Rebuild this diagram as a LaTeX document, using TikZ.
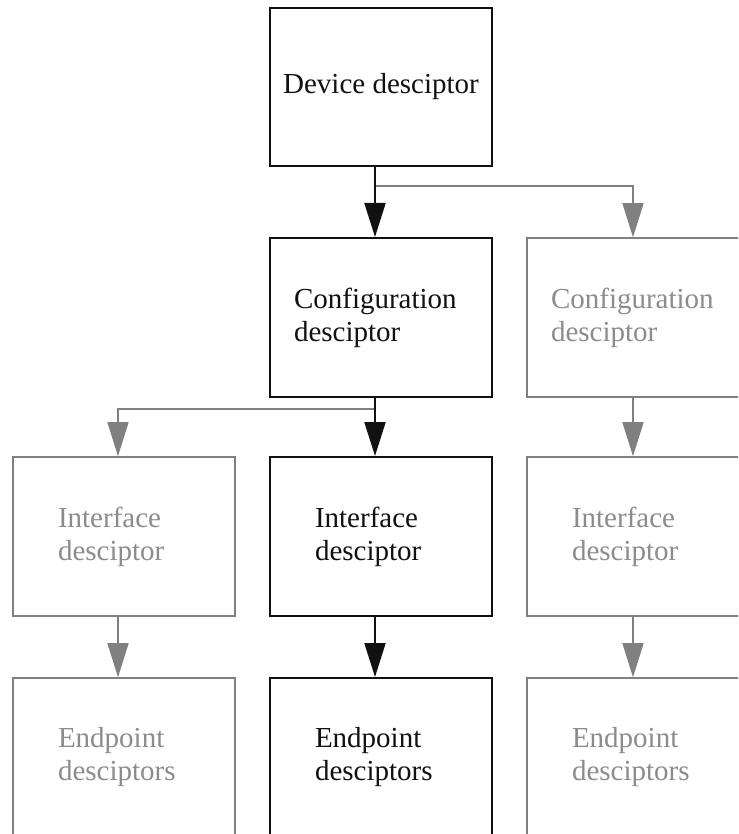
\documentclass[tikz,border=0pt]{standalone}
\usepackage{fontspec}
\setmainfont{Liberation Serif}
\usetikzlibrary{arrows.meta}
\definecolor{dimline}{HTML}{808080}
\definecolor{dimtext}{HTML}{8C8C8C}
\definecolor{ink}{HTML}{111111}
\begin{document}
\begin{tikzpicture}[x=1pt,y=-1pt,
  box/.style={rectangle, draw, inner sep=0pt, minimum width=222pt, minimum height=159pt,
    font=\fontsize{29}{33}\selectfont},
  active/.style={box, draw=ink, line width=2pt, text=ink},
  inactive/.style={box, draw=dimline, line width=1.6pt, text=dimtext},
  widetext/.style={text width=174pt, align=left},
  narrowtext/.style={text width=132pt, align=left},
  mainlink/.style={draw=ink, line width=2pt, -{Triangle[width=21pt,length=34pt]}},
  sidelink/.style={draw=dimline, line width=1.6pt, -{Triangle[width=21pt,length=34pt]}}]
\useasboundingbox (0,0) rectangle (738,834);
\clip (0,0) rectangle (738,834);
\fill[white] (0,0) rectangle (738,834);

% descriptor tree
\node[active, minimum height=158pt] (dev) at (381,87) {Device desciptor};
\node[active, widetext] (cfg) at (381,317.5) {Configuration\\desciptor};
\node[inactive, widetext] (cfgb) at (638,317.5) {Configuration\\desciptor};

\node[inactive, narrowtext] (ifa) at (124,536.5) {Interface\\desciptor};
\node[active, narrowtext] (ifb) at (381,536.5) {Interface\\desciptor};
\node[inactive, narrowtext] (ifc) at (638,536.5) {Interface\\desciptor};

\node[inactive, narrowtext] (epa) at (124,757.5) {Endpoint\\desciptors};
\node[active, narrowtext] (epb) at (381,757.5) {Endpoint\\desciptors};
\node[inactive, narrowtext] (epc) at (638,757.5) {Endpoint\\desciptors};

% branch points
\coordinate (splitdev) at (375,186);
\coordinate (splitcfg) at (375,409);

% secondary (grey) links
\draw[sidelink] (splitdev) -| ([xshift=-5pt]cfgb.north);
\draw[sidelink] (splitcfg) -| ([xshift=-6pt]ifa.north);
\draw[sidelink] ([xshift=-5pt]cfgb.south) -- ([xshift=-5pt]ifc.north);
\draw[sidelink] ([xshift=-6pt]ifa.south) -- ([xshift=-6pt]epa.north);
\draw[sidelink] ([xshift=-5pt]ifc.south) -- ([xshift=-5pt]epc.north);

% main (black) path
\draw[mainlink] ([xshift=-6pt]dev.south) -- ([xshift=-6pt]cfg.north);
\draw[mainlink] ([xshift=-6pt]cfg.south) -- ([xshift=-6pt]ifb.north);
\draw[mainlink] ([xshift=-6pt]ifb.south) -- ([xshift=-6pt]epb.north);
\end{tikzpicture}
\end{document}
